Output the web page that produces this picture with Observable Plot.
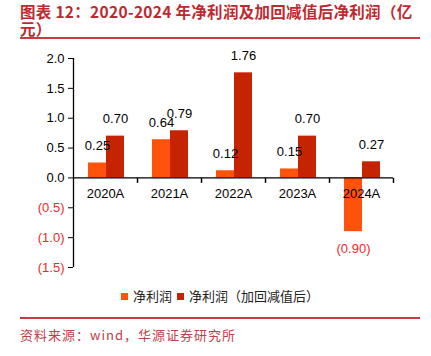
<!DOCTYPE html>
<html><head><meta charset="utf-8">
<script src="https://cdn.jsdelivr.net/npm/d3@7"></script>
<script src="https://cdn.jsdelivr.net/npm/@observablehq/plot@0.6"></script>
<style>
body{margin:0;background:#fff;width:431px;height:356px;position:relative;overflow:hidden;font-family:"Liberation Sans",Arial,sans-serif;}
.title{position:absolute;left:20px;font-family:"Noto Sans CJK SC";font-weight:bold;font-size:15.5px;letter-spacing:0.3px;line-height:17px;color:#C0282F;white-space:nowrap;}
.hline{position:absolute;left:20px;width:400px;height:2px;background:#CC3A3F;}
#chart{position:absolute;left:0;top:40px;}
#legend{position:absolute;left:0;top:288px;width:431px;height:16px;font-family:"Noto Sans CJK SC";font-size:13px;color:#222;}
.sw{position:absolute;top:5px;width:7px;height:7px;}
.lt{position:absolute;top:0;line-height:16px;white-space:nowrap;}
#source{position:absolute;left:20px;top:325px;font-family:"Noto Sans CJK SC";font-size:13px;letter-spacing:1px;color:#C0404A;white-space:nowrap;}
</style></head>
<body>
<div class="title" style="top:3px">图表 12：2020-2024 年净利润及加回减值后净利润（亿</div>
<div class="title" style="top:20px">元）</div>
<div class="hline" style="top:37px"></div>
<div id="chart"></div>
<div id="legend"></div>
<div class="hline" style="top:317px"></div>
<div id="source">资料来源：wind，华源证券研究所</div>
<script>
const years = ["2020A","2021A","2022A","2023A","2024A"];
const netProfit = [0.25, 0.64, 0.12, 0.15, -0.90];
const netProfitAdj = [0.70, 0.79, 1.76, 0.70, 0.27];
const seriesNames = ["净利润","净利润（加回减值后）"];
const seriesColors = ["#FF520A","#C62400"];
const yTicks = [-1.5,-1.0,-0.5,0,0.5,1.0,1.5,2.0];

const rows = years.map((year,i)=>({year, a: netProfit[i], b: netProfitAdj[i]}));
const fmt = v => v < 0 ? `(${(-v).toFixed(2)})` : v.toFixed(2);
const tfmt = v => v < 0 ? `(${(-v).toFixed(1)})` : v.toFixed(1);
const tickSym = {draw(ctx){ctx.moveTo(0,0);ctx.lineTo(0,5);}};
const red = "#F0282A";

const chart = Plot.plot({
  width:431, height:240, marginTop:18, marginBottom:13, marginLeft:73, marginRight:38,
  style:{fontFamily:"'Liberation Sans', Arial, sans-serif", fontSize:"13px", color:"#000", background:"transparent"},
  x:{type:"band", domain: years, padding:0, axis:null},
  y:{domain:[-1.5,2.0], axis:null},
  marks:[
    Plot.barY(rows,{x:"year", y:"a", fill: seriesColors[0], insetLeft:15, insetRight:31}),
    Plot.barY(rows,{x:"year", y:"b", fill: seriesColors[1], insetLeft:33, insetRight:13}),
    Plot.ruleY([0],{stroke:"#000", strokeWidth:1.3}),
    Plot.ruleX([years[0]],{dx:-32, stroke:"#000", strokeWidth:1.3}),
    Plot.dot(years, {x: d=>d, y: ()=>0, dx:32, symbol: tickSym, stroke:"#000", fill:"none"}),
    Plot.text(years, {x:d=>d, y: ()=>0, dy:16, text: d=>d, fill:"#000"}),
    Plot.text(rows.filter(d=>d.a>=0), {x:"year", y:"a", text: d=>fmt(d.a), dx:-8, dy:-17, fill:"#000"}),
    Plot.text(rows.filter(d=>d.a<0), {x:"year", y:"a", text: d=>fmt(d.a), dx:-8, dy:17, fill:red}),
    Plot.text(rows, {x:"year", y:"b", text: d=>fmt(d.b), dx:10, dy:-17, fill:"#000"}),
    Plot.axisY(yTicks.filter(v=>v>=0), {tickFormat: tfmt, tickSize:5, fill:"#000", stroke:"#000"}),
    Plot.axisY(yTicks.filter(v=>v<0), {tickFormat: tfmt, tickSize:5, fill:red, stroke:"#000"})
  ]
});
document.getElementById("chart").appendChild(chart);

const legend = document.getElementById("legend");
const legendX = [121, 177];
const textX = [133, 189];
seriesNames.forEach((n,i)=>{
  const s = document.createElement("div"); s.className="sw"; s.style.left=legendX[i]+"px"; s.style.background=seriesColors[i]; legend.appendChild(s);
  const t = document.createElement("div"); t.className="lt"; t.style.left=textX[i]+"px"; t.textContent=n; legend.appendChild(t);
});
</script>
</body></html>
